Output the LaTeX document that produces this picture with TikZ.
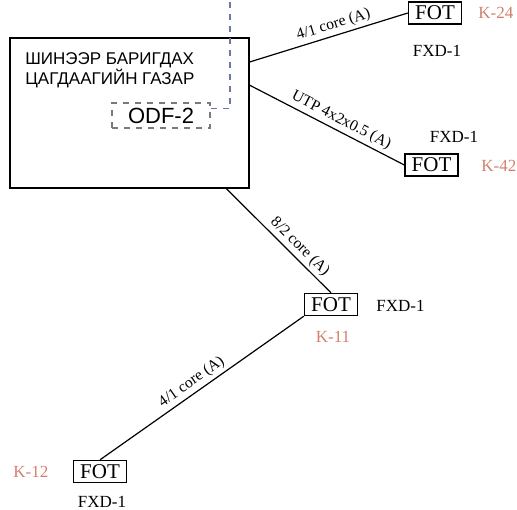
\documentclass[tikz,border=0pt]{standalone}
\usepackage{fontspec}
\setmainfont{Liberation Serif}
\setsansfont{Liberation Sans}
\definecolor{kred}{HTML}{D47F6E}
\definecolor{odfblue}{HTML}{6B78A3}
\definecolor{odfgray}{HTML}{7A7A7A}
\usetikzlibrary{positioning}

\begin{document}
\begin{tikzpicture}[x=0.5pt,y=-0.5pt,
  fotbox/.style={draw,line width=0.7pt,minimum width=26.5pt,minimum height=11pt,inner sep=1pt,font=\fontsize{10.5}{11}\selectfont},
  fxd/.style={inner sep=0.5pt,font=\fontsize{8.5}{9}\selectfont},
  kcode/.style={kred,inner sep=0.5pt,font=\fontsize{8.5}{9}\selectfont},
  cable/.style={line width=0.6pt},
  cablelabel/.style={font=\fontsize{7.8}{8}\selectfont,above,sloped,inner sep=1.5pt}]
  \useasboundingbox (0,0) rectangle (517,509);
  % building
  \node[draw,line width=0.75pt,minimum width=119.5pt,minimum height=75pt,inner sep=0pt] (station) at (129.5,113) {};
  \node[anchor=north west,align=left,inner sep=0pt,font=\sffamily\fontsize{8.5}{10}\selectfont] (title) at (25,52) {ШИНЭЭР БАРИГДАХ\\ЦАГДААГИЙН ГАЗАР};
  \node[draw=odfgray,dashed,line width=0.6pt,minimum width=49pt,minimum height=12.5pt,inner sep=0pt,font=\sffamily\fontsize{11}{12}\selectfont] (odf) at (161,115.5) {ODF-2};
  \coordinate (odftop) at (230,-4);
  \draw[odfblue,dashed,line width=0.8pt] ([yshift=3.5pt]odf.east) -| (odftop);
  % terminals
  \node[fotbox] (k24) at (435,13) {FOT};
  \node[kcode,anchor=west] (k24code) at (477,13) {K-24};
  \node[fxd] (k24fxd) at (437,51) {FXD-1};
  \node[fotbox] (k42) at (431.5,165) {FOT};
  \node[kcode,anchor=west] (k42code) at (480,166) {K-42};
  \node[fxd] (k42fxd) at (454,137) {FXD-1};
  \node[fotbox] (k11) at (331,304.5) {FOT};
  \node[fxd,anchor=west] (k11fxd) at (375,306) {FXD-1};
  \node[kcode] (k11code) at (333,337) {K-11};
  \node[fotbox] (k12) at (100,471.5) {FOT};
  \node[kcode,anchor=west] (k12code) at (12,472) {K-12};
  \node[fxd] (k12fxd) at (102,501.5) {FXD-1};
  % cables
  \draw[cable] (station.23) -- node[cablelabel,pos=0.55] {4/1 core (A)} (k24.west);
  \draw[cable] (station.13) -- node[cablelabel,pos=0.56] {UTP 4x2x0.5 (A)} (k42.west);
  \draw[cable] (station.-38) -- node[cablelabel,pos=0.63] {8/2 core (A)} (k11.north);
  \draw[cable] (k11.south west) -- node[cablelabel,pos=0.52] {4/1 core (A)} (k12.north);
\end{tikzpicture}
\end{document}
